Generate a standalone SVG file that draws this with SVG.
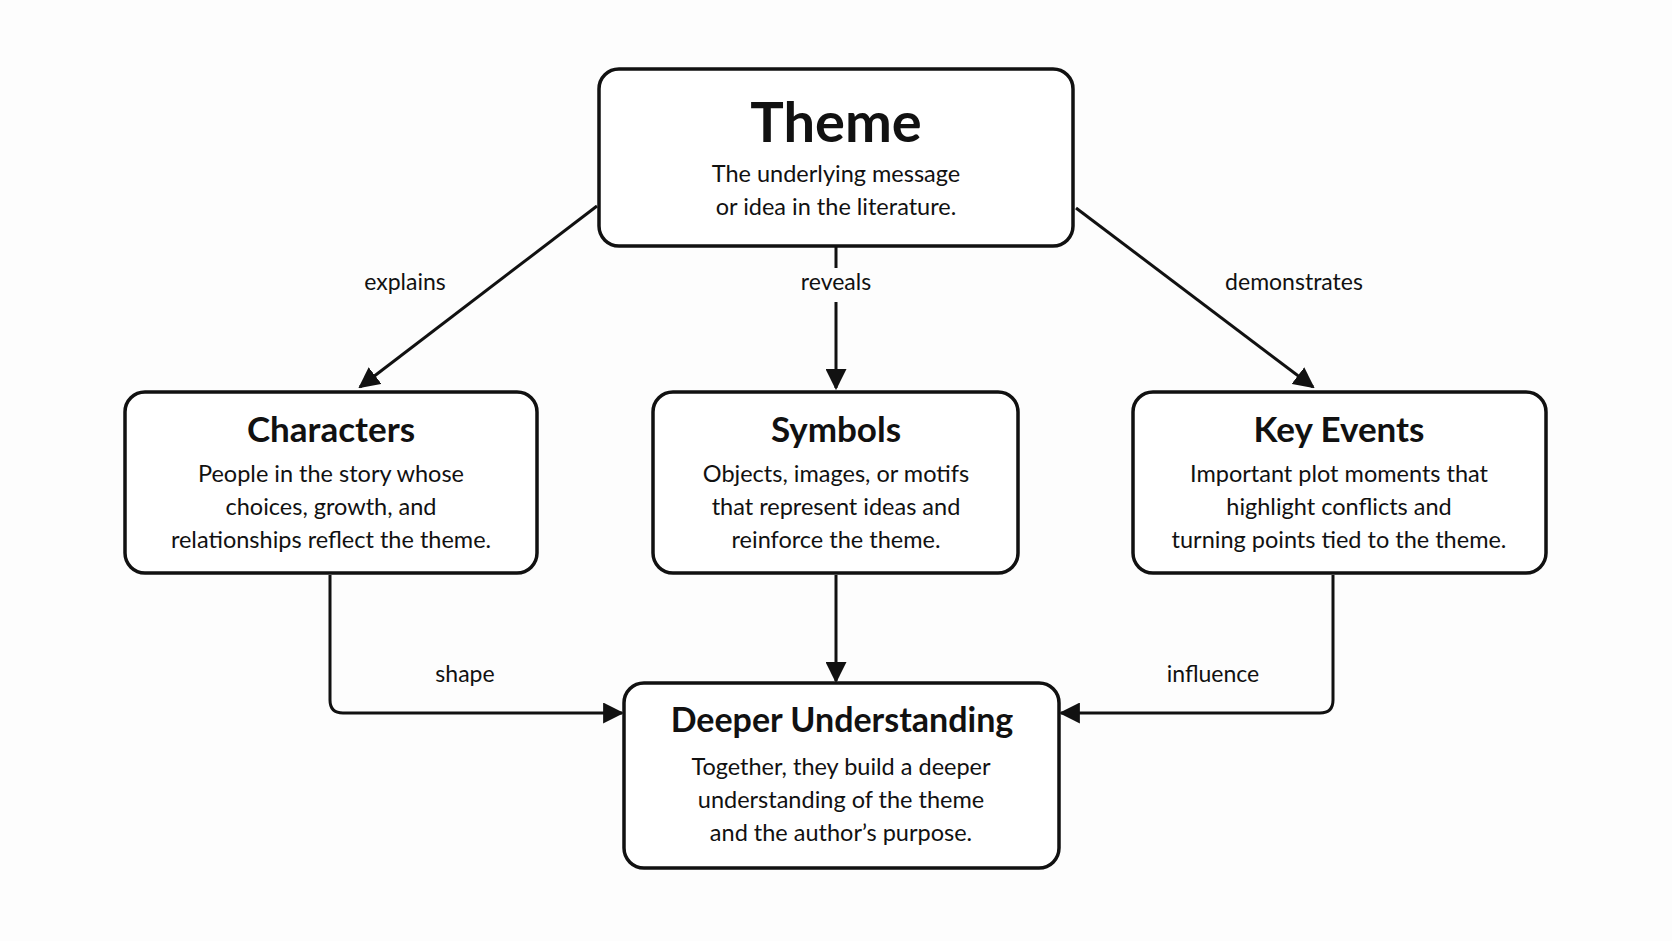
<svg xmlns="http://www.w3.org/2000/svg" width="1672" height="941" viewBox="0 0 1672 941">
<style>
.box{fill:#fff;stroke:#111;stroke-width:3.5}
.t{font-family:Lato,"Noto Sans",sans-serif;font-weight:700;fill:#111;text-anchor:middle}
.b{font-family:Lato,"Noto Sans",sans-serif;font-size:23.5px;fill:#111;text-anchor:middle}
.l{font-family:Lato,"Noto Sans",sans-serif;font-size:23px;fill:#111;text-anchor:middle}
.c{fill:none;stroke:#111;stroke-width:3}
</style>
<defs><marker id="a" viewBox="0 0 10 10" refX="9" refY="5" markerWidth="7" markerHeight="7" markerUnits="userSpaceOnUse" orient="auto"><path d="M0,0L10,5L0,10z" fill="#111"/></marker>
<marker id="h" viewBox="0 0 10 10" refX="9" refY="5" markerWidth="7" markerHeight="7" orient="auto"><path d="M0,0L10,5L0,10z" fill="#111"/></marker></defs>
<rect width="1672" height="941" fill="#fdfdfd"/>
<g id="connectors">
<path class="c" d="M597,206L360,387" marker-end="url(#h)"/>
<path class="c" d="M836,247V268M836,302V388" marker-end="url(#h)"/>
<path class="c" d="M1076,208L1313,387" marker-end="url(#h)"/>
<path class="c" d="M330,575V700Q330,713 343,713H622" marker-end="url(#h)"/>
<path class="c" d="M836,575V681" marker-end="url(#h)"/>
<path class="c" d="M1333,575V700Q1333,713 1320,713H1061" marker-end="url(#h)"/>
<text class="l" x="405" y="290">explains</text>
<text class="l" x="836" y="290">reveals</text>
<text class="l" x="1294" y="290">demonstrates</text>
<text class="l" x="465" y="682">shape</text>
<text class="l" x="1213" y="682">influence</text>
</g>
<g id="theme"><rect class="box" x="599" y="69" width="474" height="177" rx="20"/>
<text class="t" x="836" y="142" font-size="56">Theme</text>
<text class="b" x="836" y="182">The underlying message</text>
<text class="b" x="836" y="215">or idea in the literature.</text></g>
<g id="characters"><rect class="box" x="125" y="392" width="412" height="181" rx="20"/>
<text class="t" x="331" y="442" font-size="35">Characters</text>
<text class="b" x="331" y="482">People in the story whose</text>
<text class="b" x="331" y="515">choices, growth, and</text>
<text class="b" x="331" y="548">relationships reflect the theme.</text></g>
<g id="symbols"><rect class="box" x="653" y="392" width="365" height="181" rx="20"/>
<text class="t" x="836" y="442" font-size="35">Symbols</text>
<text class="b" x="836" y="482">Objects, images, or motifs</text>
<text class="b" x="836" y="515">that represent ideas and</text>
<text class="b" x="836" y="548">reinforce the theme.</text></g>
<g id="keyevents"><rect class="box" x="1133" y="392" width="413" height="181" rx="20"/>
<text class="t" x="1339" y="442" font-size="35">Key Events</text>
<text class="b" x="1339" y="482">Important plot moments that</text>
<text class="b" x="1339" y="515">highlight conflicts and</text>
<text class="b" x="1339" y="548">turning points tied to the theme.</text></g>
<g id="deeper"><rect class="box" x="624" y="683" width="435" height="185" rx="20"/>
<text class="t" x="842" y="732" font-size="34">Deeper Understanding</text>
<text class="b" x="841" y="775">Together, they build a deeper</text>
<text class="b" x="841" y="808">understanding of the theme</text>
<text class="b" x="841" y="841">and the author’s purpose.</text></g>
</svg>
